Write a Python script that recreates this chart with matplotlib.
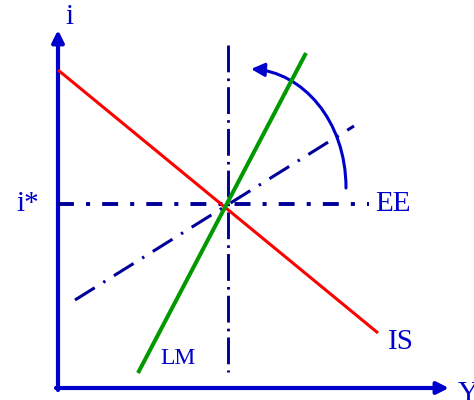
import matplotlib
matplotlib.use("Agg")
import matplotlib.pyplot as plt
from matplotlib.patches import FancyArrowPatch
from matplotlib.path import Path

# Data (in chart units: origin at axis corner)
is_x = [0.0, 8.0]
is_y = [7.95, 1.375]
lm_x = [2.0, 6.2]
lm_y = [0.375, 8.375]
ee_x = [0.0, 7.775]
ee_y = [4.6, 4.6]
vert_x = [4.25, 4.25]
vert_y = [8.575, 0.4]
diag_x = [0.425, 7.4]
diag_y = [2.2, 6.55]
curve_pts = [(7.2, 5.0), (7.2, 6.7), (6.1, 7.9), (4.825, 7.975)]
labels = {"i": (0.175, 9.28), "i*": (-0.75, 4.6), "EE": (7.925, 4.6),
          "IS": (8.25, 1.15), "LM": (2.55, 0.725), "Y": (10.0, -0.15)}

fig = plt.figure(figsize=(4.74, 4.0), dpi=100)
ax = fig.add_axes([0, 0, 1, 1])
ax.set_xlim(-1.45, 10.4)
ax.set_ylim(-0.3, 9.7)
ax.axis("off")

blue = "#0000CC"
navy = "#000099"

ax.plot(ee_x, ee_y, color=navy, lw=2.8, linestyle=(0, (4.1, 3.1, 1.05, 3.1)), dash_capstyle="butt")
ax.plot(vert_x, vert_y, color=navy, lw=2.1, linestyle=(0, (9.2, 2.1, 0.9, 2.1)), dash_capstyle="butt")
ax.plot(diag_x, diag_y, color=navy, lw=2.2, linestyle=(0, (7.6, 3.3, 0.8, 3.3)), dash_capstyle="butt")
ax.plot(is_x, is_y, color="#FF0000", lw=2.2, solid_capstyle="butt")
ax.plot(lm_x, lm_y, color="#009900", lw=2.9, solid_capstyle="butt")

# axes arrows
astyle = "-|>,head_length=7,head_width=3.5"
ax.add_patch(FancyArrowPatch((0, -0.05), (0, 8.95), arrowstyle=astyle,
                             color=blue, lw=3, shrinkA=0, shrinkB=0, mutation_scale=1))
ax.add_patch(FancyArrowPatch((-0.05, 0), (9.775, 0), arrowstyle=astyle,
                             color=blue, lw=3, shrinkA=0, shrinkB=0, mutation_scale=1))

# curved arrow
path = Path(curve_pts, [Path.MOVETO, Path.CURVE4, Path.CURVE4, Path.CURVE4])
ax.add_patch(FancyArrowPatch(path=path, arrowstyle="-|>,head_length=8,head_width=4",
                             color=blue, lw=2.2, mutation_scale=1))

font = dict(family="Liberation Serif", color=blue)
ax.text(*labels["i"], "i", fontsize=21, ha="left", va="center", **font)
ax.text(*labels["i*"], "i*", fontsize=21, ha="center", va="center", **font)
ax.text(*labels["EE"], "EE", fontsize=21, ha="left", va="center", **font)
ax.text(*labels["IS"], "IS", fontsize=21, ha="left", va="center", **font)
ax.text(*labels["LM"], "LM", fontsize=17, ha="left", va="center", **font)
ax.text(*labels["Y"], "Y", fontsize=21, ha="left", va="center", **font)

fig.savefig("out.png", dpi=100)
